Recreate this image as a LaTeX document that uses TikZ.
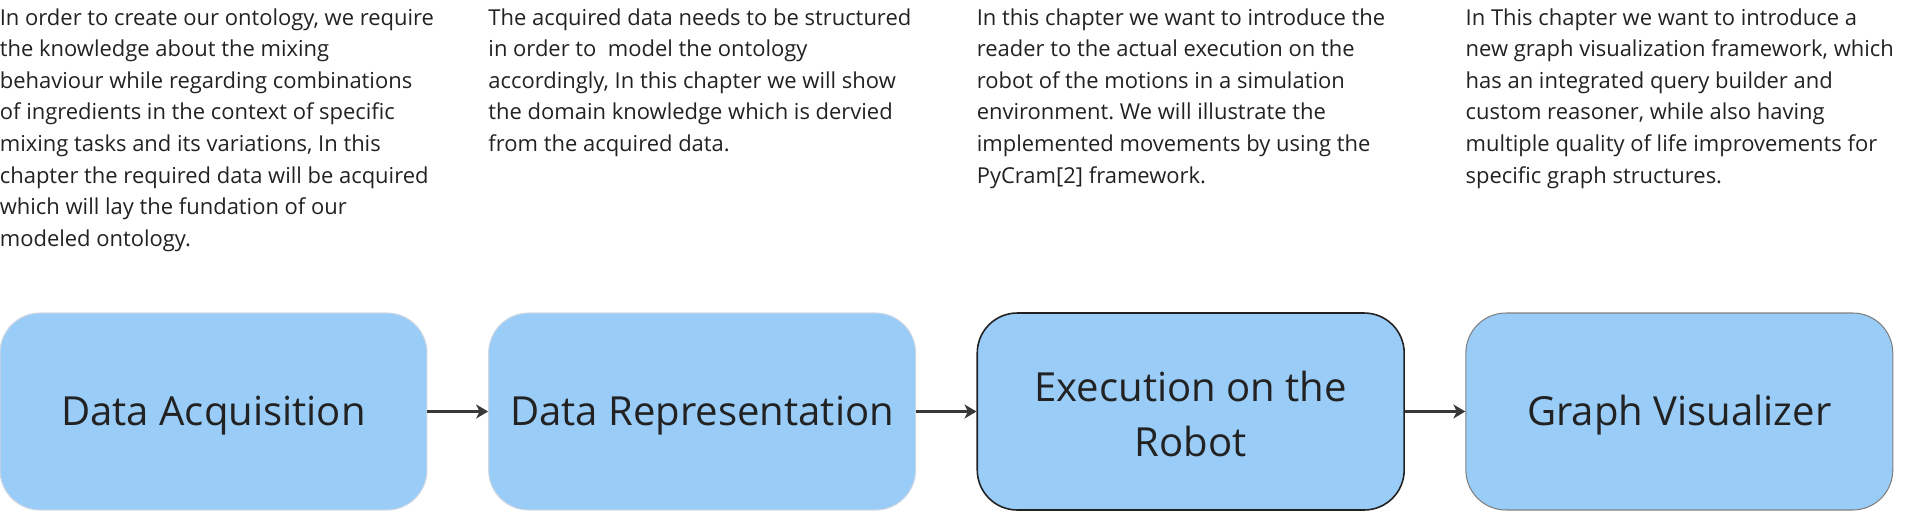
\documentclass[tikz,border=0pt]{standalone}
\usepackage{fontspec}
\setmainfont{Open Sans}
\usetikzlibrary{arrows.meta}
\definecolor{boxblue}{RGB}{153,204,247}
\definecolor{inkgray}{RGB}{34,34,34}
\definecolor{paleedge}{RGB}{205,215,228}
\frenchspacing
\begin{document}
\begin{tikzpicture}[x=0.02cm, y=-0.02cm, node distance={97.74mm},
  main/.style = {draw=paleedge, line width=0.6pt, fill=boxblue, rounded corners=0.8cm,
    minimum width=8.54cm, minimum height=3.94cm, inner sep=0pt, align=center,
    text height=16.2pt, text depth=0pt,
    text=inkgray, font=\fontsize{22.8pt}{31.3pt}\selectfont},
  note/.style = {anchor=north west, inner sep=0pt, align=left, text=inkgray,
    font=\fontsize{12.5pt}{18pt}\selectfont}]
\useasboundingbox (0,0) rectangle (1905,524);
\coordinate (top) at (0,8);
\node[main] (1) at (213.5,411.5) {Data Acquisition};
\node[main] (2) [right of=1] {Data Representation};
\node[main, draw=inkgray, line width=0.9pt, text height=50.9pt] (3) [right of=2] {Execution on the\\Robot};
\node[main, draw=gray] (4) [right of=3] {Graph Visualizer};
\node[note] (t1) at (1.north west |- top) {In order to create our ontology, we require\\the knowledge about the mixing\\behaviour while regarding combinations\\of ingredients in the context of specific\\mixing tasks and its variations, In this\\chapter the required data will be acquired\\which will lay the fundation of our\\modeled ontology.};
\node[note] (t2) at (2.north west |- top) {The acquired data needs to be structured\\in order to \ model the ontology\\accordingly, In this chapter we will show\\the domain knowledge which is dervied\\from the acquired data.};
\node[note] (t3) at (3.north west |- top) {In this chapter we want to introduce the\\reader to the actual execution on the\\robot of the motions in a simulation\\environment. We will illustrate the\\implemented movements by using the\\PyCram[2] framework.};
\node[note] (t4) at (4.north west |- top) {In This chapter we want to introduce a\\new graph visualization framework, which\\has an integrated query builder and\\custom reasoner, while also having\\multiple quality of life improvements for\\specific graph structures.};
\draw[-{Stealth[length=2.4mm, width=2.8mm, inset=0.7mm]}, line width=1.5pt, inkgray!90] (1) -- (2);
\draw[-{Stealth[length=2.4mm, width=2.8mm, inset=0.7mm]}, line width=1.5pt, inkgray!90] (2) -- (3);
\draw[-{Stealth[length=2.4mm, width=2.8mm, inset=0.7mm]}, line width=1.5pt, inkgray!90] (3) -- (4);
\end{tikzpicture}
\end{document}
